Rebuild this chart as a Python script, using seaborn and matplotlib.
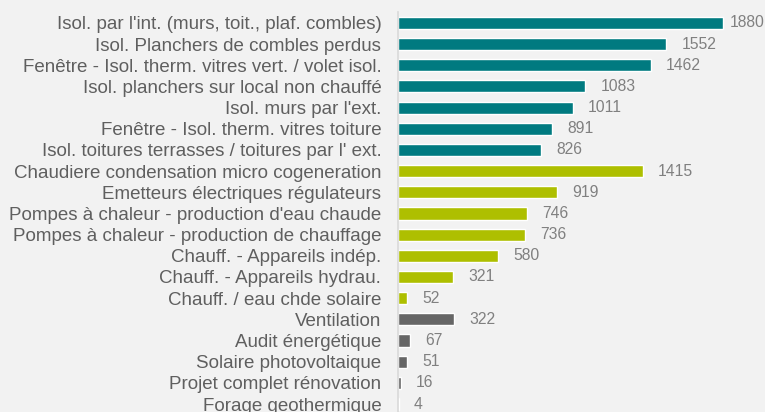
import pandas as pd
import matplotlib.pyplot as plt
import seaborn as sns

# ─── DATA ───────────────────────────────────────────────────────────────────

categories = [
    "Isol. par l'int. (murs, toit., plaf. combles)",
    "Isol. Planchers de combles perdus",
    "Fenêtre - Isol. therm. vitres vert. / volet isol.",
    "Isol. planchers sur local non chauffé",
    "Isol. murs par l'ext.",
    "Fenêtre - Isol. therm. vitres toiture",
    "Isol. toitures terrasses / toitures par l' ext.",
    "Chaudiere condensation micro cogeneration",
    "Emetteurs électriques régulateurs",
    "Pompes à chaleur - production d'eau chaude",
    "Pompes à chaleur - production de chauffage",
    "Chauff. - Appareils indép.",
    "Chauff. - Appareils hydrau.",
    "Chauff. / eau chde solaire",
    "Ventilation",
    "Audit énergétique",
    "Solaire photovoltaique",
    "Projet complet rénovation",
    "Forage geothermique",
]
values = [1880, 1552, 1462, 1083, 1011, 891, 826,
          1415, 919, 746, 736, 580, 321, 52,
          322, 67, 51, 16, 4]
groups = ["isolation"] * 7 + ["chauffage"] * 7 + ["autre"] * 5

palette = {"isolation": "#007A80", "chauffage": "#AEBF00", "autre": "#666666"}

df = pd.DataFrame({"category": categories, "value": values, "group": groups})

# ─── PLOT ───────────────────────────────────────────────────────────────────

sns.set_style("white")
plt.rcParams["font.family"] = ["Liberation Sans", "DejaVu Sans"]

bg = "#F2F2F2"
fig = plt.figure(figsize=(7.65, 4.12), dpi=100, facecolor=bg)
ax = fig.add_axes([398 / 765, -0.0063, 367 / 765, 0.9763])
ax.set_facecolor(bg)

sns.barplot(data=df, x="value", y="category", hue="group", palette=palette,
            dodge=False, width=0.57, saturation=1, legend=False, orient="h", ax=ax)

ax.set_xlim(0, 2123)
ax.set_ylim(len(categories) - 0.5, -0.5)
ax.set_xlabel("")
ax.set_ylabel("")
ax.set_xticks([])
ax.tick_params(axis="y", length=0, pad=12, labelsize=13.5, labelcolor="#5F5F5F")

for side in ["top", "right", "bottom"]:
    ax.spines[side].set_visible(False)
ax.spines["left"].set_color("#D9D9D9")
ax.spines["left"].set_linewidth(1.2)

# value labels right of each bar
for i, v in enumerate(values):
    pad = 5 if v == max(values) else 11
    ax.annotate(str(v), xy=(v, i), xytext=(pad, 0), textcoords="offset points",
                ha="left", va="center", fontsize=11.3, color="#808080")

fig.savefig("out.png", dpi=100, facecolor=bg)
